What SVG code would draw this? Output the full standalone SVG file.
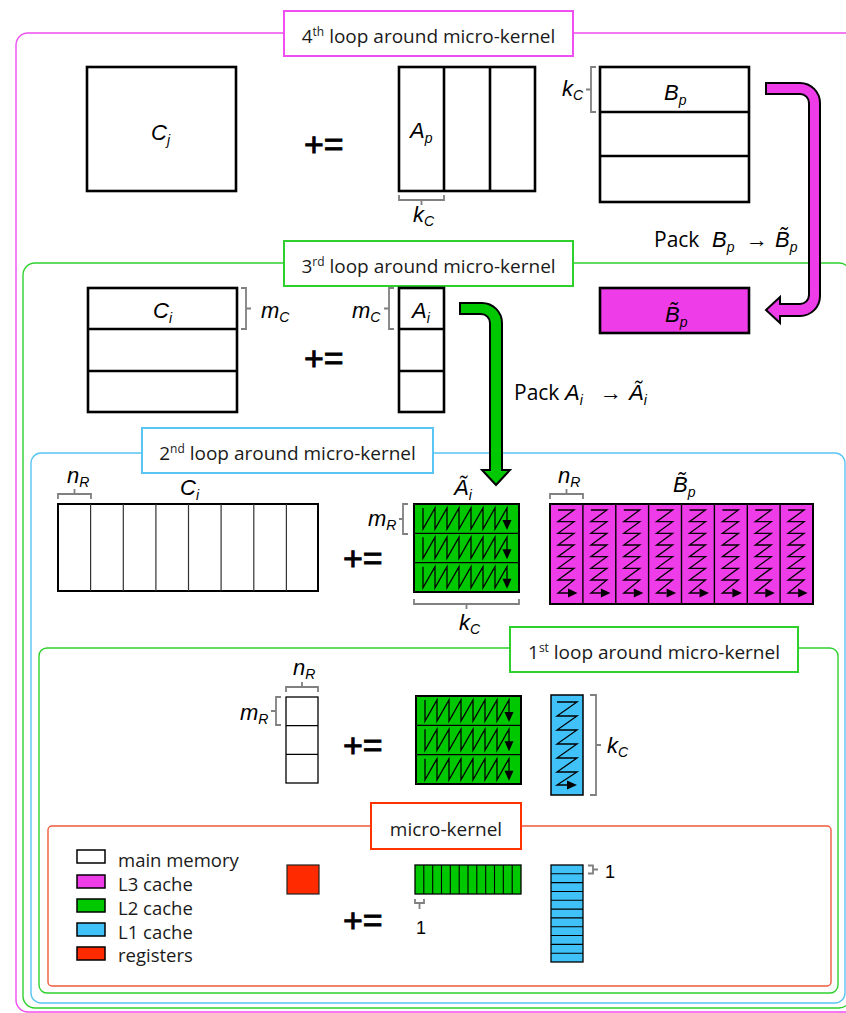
<svg xmlns="http://www.w3.org/2000/svg" width="846" height="1013" viewBox="0 0 846 1013">
<style>
.mat{fill:#fff;stroke:#000;stroke-width:2.6}
.ln{stroke:#000;stroke-width:2.6;fill:none}
.thin{stroke:#000;stroke-width:1.2;fill:none}
.br{fill:none;stroke:#808080;stroke-width:1.8}
.m{font-family:"Liberation Sans",Arial,sans-serif;font-style:italic;font-size:22px;fill:#000}
.s{font-size:14px}
.pe{font-family:"Liberation Sans",Arial,sans-serif;font-size:34px;fill:#000;stroke:#000;stroke-width:0.9}
.lb{font-family:"Open Sans",sans-serif;font-size:19px;fill:#1a1a1a}
.lg{font-family:"Open Sans",sans-serif;font-size:18.5px;fill:#1a1a1a}
.sup{font-size:12px}
.lbox{fill:#fff;stroke-width:2}
.loop{fill:none;stroke-width:1.4}
.ar{font-family:"Liberation Sans",Arial,sans-serif;font-size:22px;fill:#000}
.zz{fill:none;stroke:#000;stroke-width:1.3}
.pk{font-family:"Open Sans",sans-serif;font-size:21px;fill:#000}
.one{font-family:"Liberation Sans",Arial,sans-serif;font-size:18px;fill:#000}
.mag{fill:#EE3CE8}
.grn{fill:#00C800}
.blu{fill:#40C2F8}
.red{fill:#FF2A00}
</style>
<defs>
<g id="arow">
<path class="zz" d="M9,4 V25 L21,4 V25 L33,4 V25 L45,4 V25 L57,4 V25 L69,4 V25 L81,4 V25 L93,4 V17"/>
<polygon points="88.5,16 97.5,16 93,26" fill="#000"/>
</g>
<g id="apanel">
<rect width="105" height="88" class="grn" stroke="#000" stroke-width="2"/>
<path d="M0,29.3 H105 M0,58.7 H105" stroke="#000" stroke-width="1.2"/>
<use href="#arow"/>
<use href="#arow" y="29.3"/>
<use href="#arow" y="58.7"/>
</g>
<g id="bcol">
<path class="zz" d="M8,6 H24 L8,17.7 H24 L8,29.3 H24 L8,41 H24 L8,52.7 H24 L8,64.3 H24 L8,76 H24 L8,89 H18"/>
<polygon points="18,84.5 27.5,89 18,93.5" fill="#000"/>
</g>
</defs>

<!-- loop containers -->
<g id="loop4">
<rect class="loop" x="16" y="33" width="850" height="979" rx="12" stroke="#F04EF0"/>
<rect class="lbox" x="284" y="11" width="289" height="45" stroke="#F04EF0"/>
<text class="lb" x="428.5" y="43" text-anchor="middle">4<tspan class="sup" dy="-7">th</tspan><tspan dy="7"> loop around micro-kernel</tspan></text>
</g>
<g id="loop3">
<rect class="loop" x="23" y="263" width="828" height="745" rx="12" stroke="#2ED02E"/>
<rect class="lbox" x="284" y="241" width="289" height="45" stroke="#2ED02E"/>
<text class="lb" x="428.5" y="273" text-anchor="middle">3<tspan class="sup" dy="-7">rd</tspan><tspan dy="7"> loop around micro-kernel</tspan></text>
</g>
<g id="loop2">
<rect class="loop" x="31" y="453" width="814" height="550" rx="10" stroke="#5AC4F2"/>
<rect class="lbox" x="142" y="428" width="291" height="45" stroke="#5AC4F2"/>
<text class="lb" x="287.5" y="460" text-anchor="middle">2<tspan class="sup" dy="-7">nd</tspan><tspan dy="7"> loop around micro-kernel</tspan></text>
</g>
<g id="loop1">
<rect class="loop" x="39" y="648" width="799" height="345" rx="8" stroke="#2ED02E"/>
<rect class="lbox" x="510" y="627" width="288" height="45" stroke="#2ED02E"/>
<text class="lb" x="654" y="659" text-anchor="middle">1<tspan class="sup" dy="-7">st</tspan><tspan dy="7"> loop around micro-kernel</tspan></text>
</g>
<g id="microkernel">
<rect class="loop" x="48" y="826" width="783" height="160" rx="4" stroke="#F05A3C"/>
<rect class="lbox" x="371" y="803" width="150" height="46" stroke="#FF3300"/>
<text class="lb" x="446" y="836" text-anchor="middle">micro-kernel</text>
</g>

<!-- 4th loop contents -->
<g id="Cj">
<rect class="mat" x="87" y="67" width="149" height="124"/>
<text class="m" x="151" y="140">C<tspan class="s" dy="5">j</tspan></text>
</g>
<text class="pe" x="304" y="156">+=</text>
<g id="Ap">
<rect class="mat" x="399" y="67" width="136" height="124"/>
<path class="ln" d="M444,67 V191 M490,67 V191"/>
<text class="m" x="410" y="138">A<tspan class="s" dy="5">p</tspan></text>
<path class="br" d="M399,195 V200 H444 V195 M421.5,200 V205"/>
<text class="m" x="413" y="222" font-size="19">k<tspan class="s" dy="4">C</tspan></text>
</g>
<g id="Bp">
<rect class="mat" x="600" y="67" width="149" height="135"/>
<path class="ln" d="M600,112 H749 M600,156 H749"/>
<text class="m" x="664" y="100">B<tspan class="s" dy="5">p</tspan></text>
<path class="br" d="M596,67 H591 V112 H596 M591,89.5 H586"/>
<text class="m" x="562" y="96" font-size="19">k<tspan class="s" dy="4">C</tspan></text>
</g>
<g id="packB">
<text class="pk" x="654" y="247">Pack</text>
<text class="m" x="712" y="247">B<tspan class="s" dy="5">p</tspan></text>
<text class="ar" x="746" y="247">→</text>
<text class="m" x="775" y="247">B&#x303;<tspan class="s" dy="5">p</tspan></text>
</g>

<!-- 3rd loop contents -->
<g id="Bpt">
<rect class="mag" x="600" y="288" width="149" height="45" stroke="#000" stroke-width="2.6"/>
<text class="m" x="665" y="322">B&#x303;<tspan class="s" dy="5">p</tspan></text>
</g>
<g id="Ci3">
<rect class="mat" x="88" y="288" width="149" height="124"/>
<path class="ln" d="M88,329 H237 M88,371 H237"/>
<text class="m" x="153" y="318">C<tspan class="s" dy="5">i</tspan></text>
<path class="br" d="M241,288 H246 V329 H241 M246,308.5 H251"/>
<text class="m" x="261" y="318" font-size="19">m<tspan class="s" dy="4">C</tspan></text>
</g>
<text class="pe" x="304" y="370">+=</text>
<g id="Ai3">
<rect class="mat" x="399" y="288" width="45" height="124"/>
<path class="ln" d="M399,329 H444 M399,371 H444"/>
<text class="m" x="412" y="318">A<tspan class="s" dy="5">i</tspan></text>
<path class="br" d="M394,288 H389 V329 H394 M389,308.5 H384"/>
<text class="m" x="352" y="318" font-size="19">m<tspan class="s" dy="4">C</tspan></text>
</g>
<g id="packA">
<text class="pk" x="514" y="400">Pack</text>
<text class="m" x="565" y="400">A<tspan class="s" dy="5">i</tspan></text>
<text class="ar" x="600" y="400">→</text>
<text class="m" x="629" y="400">Ã<tspan class="s" dy="5">i</tspan></text>
</g>

<!-- 2nd loop contents -->
<g id="Ci2">
<rect x="58" y="504" width="260" height="87" fill="#fff" stroke="#000" stroke-width="2"/>
<path d="M90.6,504 V591 M123.3,504 V591 M155.9,504 V591 M188.5,504 V591 M221.1,504 V591 M253.8,504 V591 M286.4,504 V591" stroke="#333" stroke-width="1.2"/>
<text class="m" x="180" y="495" font-size="23">C<tspan class="s" dy="5">i</tspan></text>
<path class="br" d="M58,499 V494 H91 V499 M74.5,494 V489"/>
<text class="m" x="67" y="483" font-size="19">n<tspan class="s" dy="4">R</tspan></text>
</g>
<text class="pe" x="343" y="570">+=</text>
<g id="Ait">
<use href="#apanel" x="414" y="504"/>
<text class="m" x="454" y="495">Ã<tspan class="s" dy="5">i</tspan></text>
<path class="br" d="M408,504 H403 V534 H408 M403,519 H399"/>
<text class="m" x="368" y="526" font-size="19">m<tspan class="s" dy="4">R</tspan></text>
<path class="br" d="M414,599 V604 H519 V599 M466.5,604 V609"/>
<text class="m" x="459" y="630" font-size="19">k<tspan class="s" dy="4">C</tspan></text>
</g>
<g id="Bpt2">
<rect class="mag" x="550" y="504" width="263" height="100" stroke="#000" stroke-width="2"/>
<path d="M582.9,504 V604 M615.8,504 V604 M648.6,504 V604 M681.5,504 V604 M714.4,504 V604 M747.3,504 V604 M780.1,504 V604" stroke="#000" stroke-width="1.4"/>
<use href="#bcol" x="550" y="504"/>
<use href="#bcol" x="582.9" y="504"/>
<use href="#bcol" x="615.8" y="504"/>
<use href="#bcol" x="648.6" y="504"/>
<use href="#bcol" x="681.5" y="504"/>
<use href="#bcol" x="714.4" y="504"/>
<use href="#bcol" x="747.3" y="504"/>
<use href="#bcol" x="780.1" y="504"/>
<text class="m" x="673" y="492">B&#x303;<tspan class="s" dy="5">p</tspan></text>
<path class="br" d="M550,499 V494 H583 V499 M566.5,494 V489"/>
<text class="m" x="558" y="483" font-size="19">n<tspan class="s" dy="4">R</tspan></text>
</g>

<!-- 1st loop contents -->
<g id="Cr">
<rect x="286" y="697" width="32" height="86" fill="#fff" stroke="#000" stroke-width="1.3"/>
<path class="thin" d="M286,725.7 H318 M286,754.3 H318"/>
<path class="br" d="M286,692 V687 H318 V692 M302,687 V682"/>
<text class="m" x="293" y="675" font-size="19">n<tspan class="s" dy="4">R</tspan></text>
<path class="br" d="M281,697 H276 V725 H281 M276,711 H271"/>
<text class="m" x="240" y="720" font-size="19">m<tspan class="s" dy="4">R</tspan></text>
</g>
<text class="pe" x="343" y="757">+=</text>
<g id="Ar">
<use href="#apanel" x="416" y="696"/>
</g>
<g id="Br">
<rect class="blu" x="551" y="695" width="32" height="100" stroke="#000" stroke-width="1.5"/>
<path class="zz" d="M557,702 H577 L557,716 H577 L557,730 H577 L557,744 H577 L557,758 H577 L557,772 H577 L557,785 H567"/>
<polygon points="567,780.5 577,785 567,789.5" fill="#000"/>
<path class="br" d="M590,695 H596 V795 H590 M596,745 H601"/>
<text class="m" x="607" y="753" font-size="19">k<tspan class="s" dy="4">C</tspan></text>
</g>

<!-- micro-kernel contents -->
<g id="legend">
<rect x="77" y="850" width="28" height="13" fill="#fff" stroke="#000" stroke-width="1.5"/>
<rect class="mag" x="77" y="875" width="28" height="13" stroke="#000" stroke-width="1.5"/>
<rect class="grn" x="77" y="899" width="28" height="13" stroke="#000" stroke-width="1.5"/>
<rect class="blu" x="77" y="923" width="28" height="13" stroke="#000" stroke-width="1.5"/>
<rect class="red" x="77" y="947" width="28" height="13" stroke="#000" stroke-width="1.5"/>
<text class="lg" x="118" y="867">main memory</text>
<text class="lg" x="118" y="891">L3 cache</text>
<text class="lg" x="118" y="915">L2 cache</text>
<text class="lg" x="118" y="939">L1 cache</text>
<text class="lg" x="118" y="962">registers</text>
</g>
<g id="reg">
<rect class="red" x="287" y="865" width="32" height="29" stroke="#222" stroke-width="1.2"/>
</g>
<text class="pe" x="343" y="932">+=</text>
<g id="arow1">
<rect class="grn" x="415" y="865" width="106" height="29" stroke="#000" stroke-width="1.3"/>
<path d="M423.8,865 V894 M432.7,865 V894 M441.5,865 V894 M450.3,865 V894 M459.2,865 V894 M468,865 V894 M476.8,865 V894 M485.7,865 V894 M494.5,865 V894 M503.3,865 V894 M512.2,865 V894" stroke="#000" stroke-width="1.1"/>
<path class="br" d="M415,899 V903 H424 V899 M419.5,903 V909"/>
<text class="one" x="416" y="934">1</text>
</g>
<g id="bcol1">
<rect class="blu" x="551" y="865" width="32" height="97" stroke="#000" stroke-width="1.3"/>
<path d="M551,873.8 H583 M551,882.6 H583 M551,891.5 H583 M551,900.3 H583 M551,909.1 H583 M551,917.9 H583 M551,926.7 H583 M551,935.5 H583 M551,944.4 H583 M551,953.2 H583" stroke="#000" stroke-width="1.1"/>
<path class="br" d="M588,865.5 H593 V873.5 H588 M593,869.5 H598"/>
<text class="one" x="605" y="878">1</text>
</g>

<!-- connectors -->
<g id="connectors">
<path class="mag" stroke="#000" stroke-width="2" d="M766,83 L800,83 A20,20 0 0 1 820,103 L820,296 A20,20 0 0 1 800,316 L780,316 L780,323 L766,310 L780,297 L780,304 L800,304 A9,9 0 0 0 809,295 L809,103 A9,9 0 0 0 800,94 L766,94 Z"/>
<path class="grn" stroke="#000" stroke-width="2" d="M460,303 L482,303 A20,20 0 0 1 502,323 L502,470 L510,470 L496,485 L482,470 L490,470 L490,323 A9,9 0 0 0 481,314 L460,314 Z"/>
</g>
</svg>
